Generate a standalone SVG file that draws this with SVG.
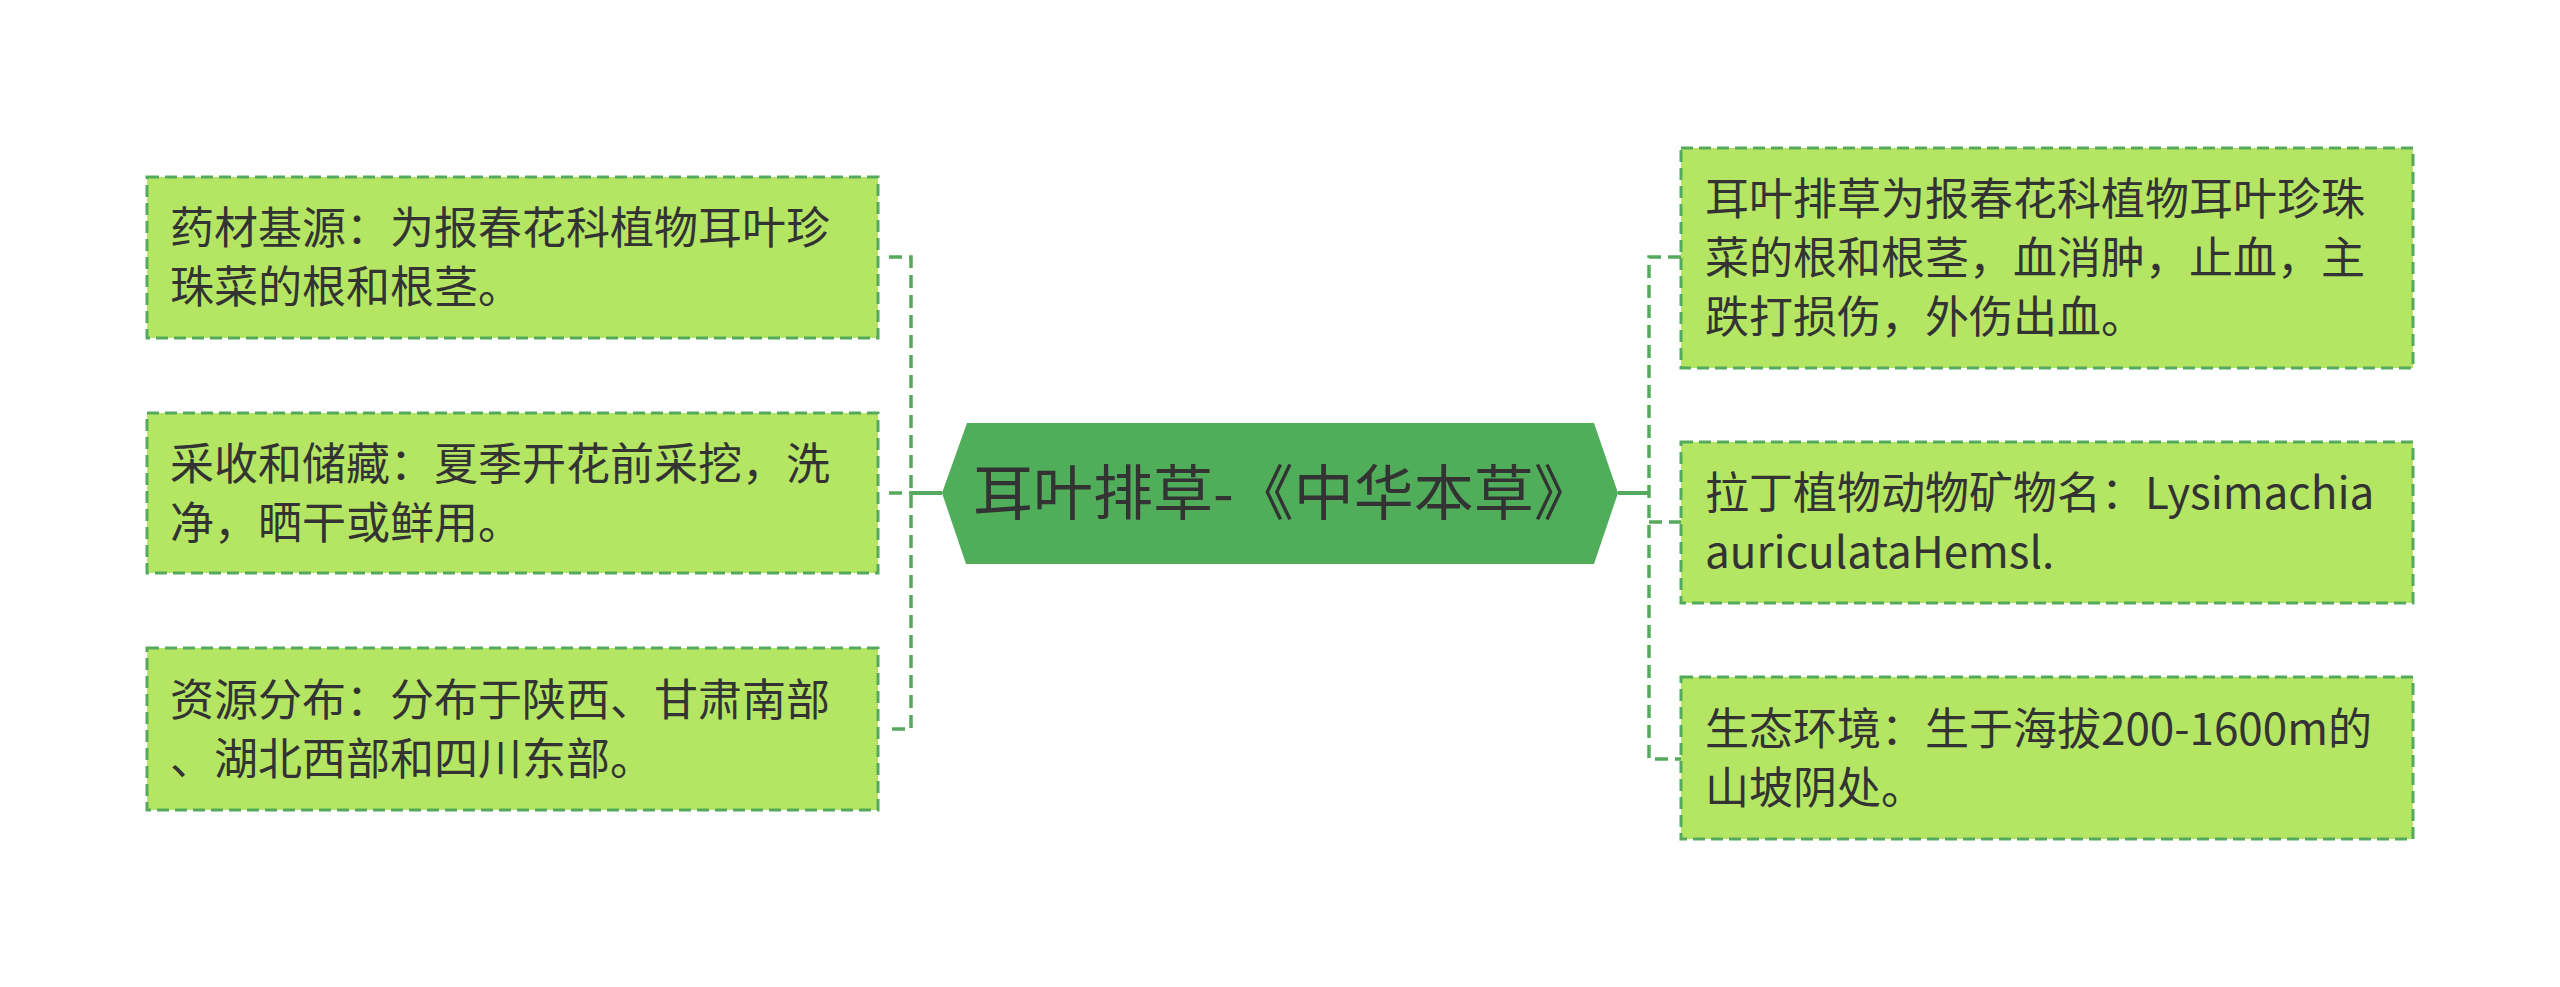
<svg xmlns="http://www.w3.org/2000/svg" width="2560" height="987" viewBox="0 0 2560 987">
<style>
.box{fill:#b4e663;stroke:#55a95c;stroke-width:3;stroke-dasharray:12 6}
.t{font-family:"Noto Sans CJK SC","Noto Sans",sans-serif;font-size:44px;fill:#333333}
.ct{font-family:"Noto Sans CJK SC","Noto Sans",sans-serif;font-size:60px;fill:#333333}
.dl{fill:none;stroke:#55a95c;stroke-width:3.5;stroke-dasharray:13 7}
.sl{fill:none;stroke:#55a95c;stroke-width:4}
</style>
<rect width="2560" height="987" fill="#ffffff"/>
<g id="connectors">
<path class="dl" d="M889 257 H911 V729 H889"/>
<path class="dl" d="M889 493 H911"/>
<path class="sl" d="M911 493 H942"/>
<path class="sl" d="M1618 493 H1649"/>
<path class="dl" d="M1681 257 H1649 V759 H1681"/>
<path class="dl" d="M1649 522 H1681"/>
</g>
<g id="center">
<polygon points="942,493 967,423 1594,423 1618,493 1594,564 966,564" fill="#50ae5b"/>
<text class="ct" x="973" y="515">耳叶排草-《中华本草》</text>
</g>
<g id="left1">
<rect class="box" x="147" y="177" width="731" height="161"/>
<text class="t" x="170" y="244">药材基源：为报春花科植物耳叶珍</text>
<text class="t" x="170" y="303">珠菜的根和根茎。</text>
</g>
<g id="left2">
<rect class="box" x="147" y="413" width="731" height="160"/>
<text class="t" x="170" y="480">采收和储藏：夏季开花前采挖，洗</text>
<text class="t" x="170" y="539">净，晒干或鲜用。</text>
</g>
<g id="left3">
<rect class="box" x="147" y="648" width="731" height="162"/>
<text class="t" x="170" y="716">资源分布：分布于陕西、甘肃南部</text>
<text class="t" x="170" y="775">、湖北西部和四川东部。</text>
</g>
<g id="right1">
<rect class="box" x="1681" y="148" width="732" height="220"/>
<text class="t" x="1705" y="215">耳叶排草为报春花科植物耳叶珍珠</text>
<text class="t" x="1705" y="274">菜的根和根茎，血消肿，止血，主</text>
<text class="t" x="1705" y="333">跌打损伤，外伤出血。</text>
</g>
<g id="right2">
<rect class="box" x="1681" y="442" width="732" height="161"/>
<text class="t" x="1705" y="509">拉丁植物动物矿物名：Lysimachia</text>
<text class="t" x="1705" y="568">auriculataHemsl.</text>
</g>
<g id="right3">
<rect class="box" x="1681" y="677" width="732" height="162"/>
<text class="t" x="1705" y="745">生态环境：生于海拔200-1600m的</text>
<text class="t" x="1705" y="804">山坡阴处。</text>
</g>
</svg>
